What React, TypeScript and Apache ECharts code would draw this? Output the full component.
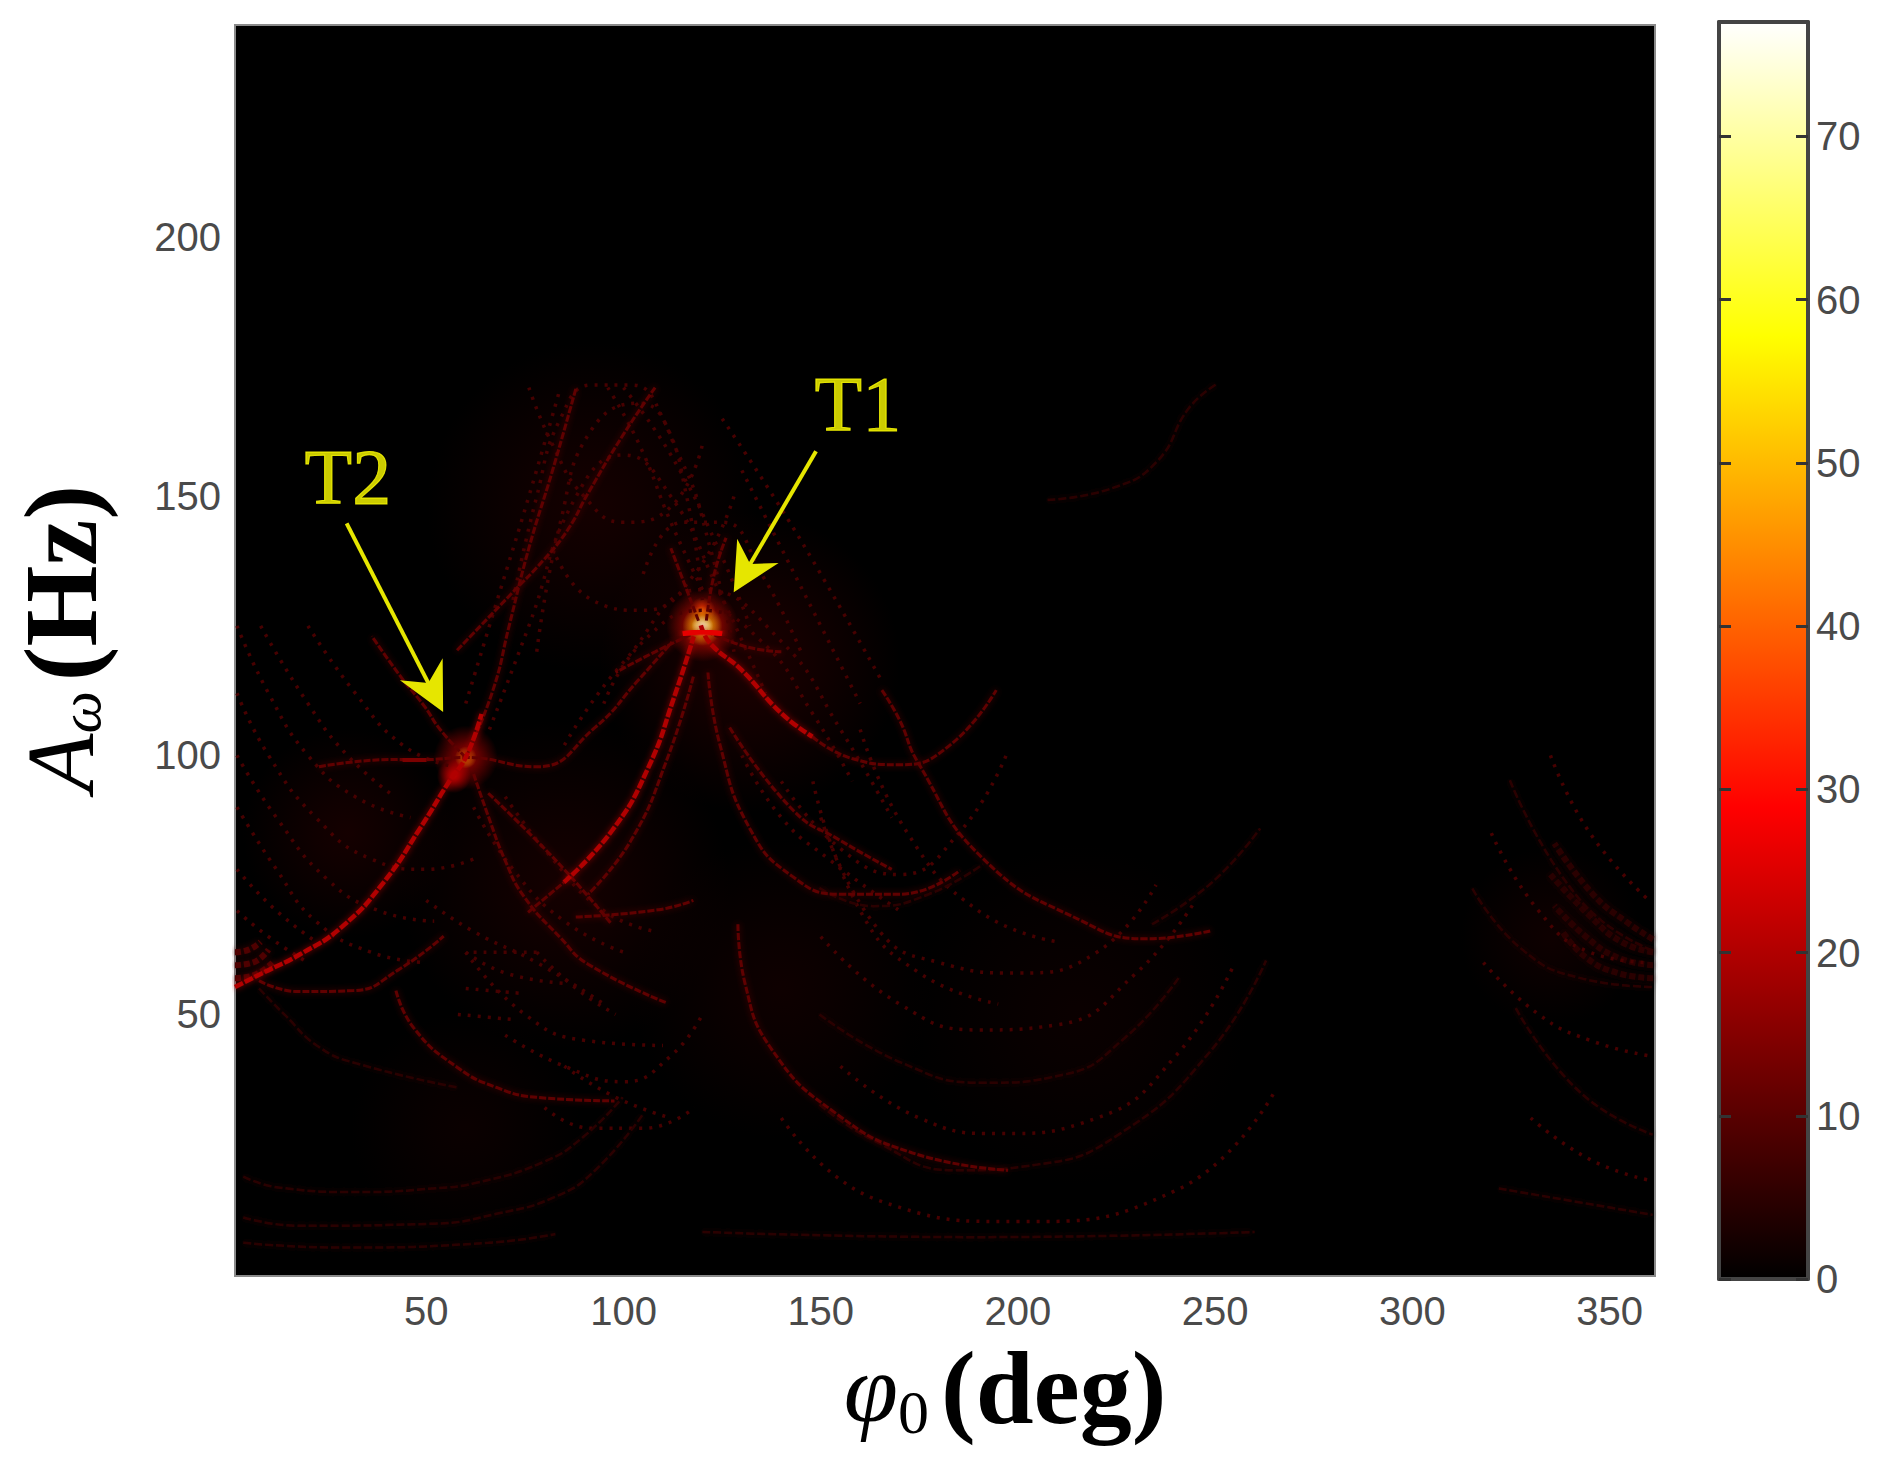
import { useEffect, useRef } from "react";
import * as echarts from "echarts";

const phiTicks = [50, 100, 150, 200, 250, 300, 350];
const ampTicks = [50, 100, 150, 200];
const barTicks = [0, 10, 20, 30, 40, 50, 60, 70];
const barMax = [77];

// arcs as [phi0 deg, A Hz]
const strongArcs = [
  [[1.5, 55.3], [8.8, 58.1], [18, 61.6], [28.6, 66.9], [39.2, 75.5], [48.4, 85.9], [56, 95.2], [60, 99.6], [64, 108]],
  [[119.6, 125.1], [122, 121.6], [129.9, 116.5], [139.9, 108.2], [147.9, 103.6]],
  [[84.9, 75.5], [97.1, 85.5], [106.2, 97.5], [112.9, 111.4], [117.8, 123]],
];
const midArcs = [
  [[60, 99.6], [66.9, 112.6], [71, 125], [76, 140], [82, 155], [88, 171]],
  [[57.8, 120.3], [71.8, 131.4], [79.7, 137.7], [85.8, 143.5], [91, 150.6], [100, 162], [108, 171]],
  [[147.9, 103.6], [157.9, 99.4], [170, 98.2], [182.3, 101.7], [194.5, 112.6]],
  [[75.8, 69.7], [84.9, 75.5]],
  [[121.4, 116], [124.4, 102.2], [132, 85.9], [142.7, 76.7], [154.9, 73.2], [170, 73.2], [185.3, 77.8]],
  [[126.9, 105.4], [143, 89.4], [154.9, 83.6], [168, 78]],
  [[117.7, 115.2], [111, 99.2], [101.9, 83.6], [91, 73.2]],
  [[129, 67.4], [130.8, 56], [137.8, 43], [154, 30.8], [173.1, 23.3], [197.5, 19.9]],
  [[165.5, 112.6], [170, 106.8], [174.6, 98.7], [191.1, 80.1], [216, 68.1], [232.5, 64.6], [249.2, 66.2]],
  [[62, 96.4], [65.7, 88.3], [70, 79.7], [74.8, 72.7], [84, 64.8], [91, 59.7], [110.7, 52.3]],
  [[65.7, 92.7], [77.9, 83.6], [87.9, 75.5], [97, 67.4]],
  [[42.3, 54.6], [46.8, 47.4], [57.8, 39.8], [67.8, 35.9], [77.9, 34], [97.7, 33.3]],
  [[87.9, 68.8], [108.9, 70.2], [117.7, 72]],
  [[7.6, 56.5], [17.6, 54.4], [31.6, 54.6], [42.9, 58.6], [54.4, 65.1]],
  [[22.8, 97.8], [41.7, 99.2], [49.6, 99.2], [60, 99.6], [77.9, 97.8], [92.8, 105.4], [103.7, 114.5], [112.3, 121.9]],
  [[60, 99.6], [53.5, 105], [49.6, 109.4], [43.8, 114.9], [36.2, 123]],
  [[119, 126], [116, 132], [112, 140]],
  [[121, 126], [123, 135], [126, 142]],
  [[119, 124], [108, 120], [98, 116]],
  [[121, 124], [131, 121], [140, 120]],
];
const faintArcs = [
  [[207.5, 149.3], [223.9, 151.6], [235.2, 156.7], [243.4, 167.1], [250.4, 171.7]],
  [[3.6, 18.7], [12.4, 16.6], [32.5, 15.7], [51.7, 16.4], [62.7, 17.5], [79.7, 21.5], [89.7, 26.3], [99.8, 34]],
  [[3.6, 10.8], [17.6, 9.2], [51.7, 9.6], [67.8, 11.5], [82.7, 14.8], [92.8, 19.9], [105, 30.8]],
  [[3.6, 5.9], [27.7, 5], [65.7, 5.9], [82.7, 7.6]],
  [[7.6, 2.5], [47.8, 2.5]],
  [[149.7, 50], [170.4, 40.7], [191.1, 36.8], [211.8, 38.4], [227, 45.4], [240.7, 57]],
  [[149.7, 32.6], [163.4, 25.7], [184.1, 19.9], [204.8, 21], [225.5, 26.8], [248.9, 43], [262.9, 60.4]],
  [[315.2, 74.3], [327.4, 62.8], [342.6, 57], [360.9, 55.3]],
  [[324.7, 95.2], [342.6, 72], [360.9, 62.3]],
  [[326.2, 51.2], [342.6, 34.9], [360.9, 26.8]],
  [[321.9, 16.4], [360.9, 11.3]],
  [[149.7, 74.4], [163.4, 70.9], [177.4, 73.2], [191.1, 79]],
  [[234, 67.4], [249.2, 75.5], [261.4, 85.9]],
  [[7.6, 55], [14, 50], [22.8, 43.7], [32.5, 40.5], [57.8, 35.9]],
  [[120, 8], [190, 7], [260, 8]],
  [[150, 3], [250, 3]],
  [[300, 3], [360, 3]],
];
const meshArcs = [
  [[72, 130], [78, 150], [84, 165], [92, 171.5], [102, 171.5], [110, 165], [116, 150], [120, 130]],
  [[78, 120], [84, 145], [92, 163], [104, 168], [114, 158], [122, 140], [128, 120]],
  [[66, 105], [76, 125], [88, 150], [100, 158], [112, 150], [124, 132], [136, 112]],
  [[60, 110], [68, 130], [76, 150], [84, 171]],
  [[96, 171], [104, 160], [112, 145], [120, 132]],
  [[100, 171], [112, 158], [124, 140], [132, 125]],
  [[76, 171], [82, 160], [90, 150], [100, 145], [112, 148], [120, 160]],
  [[82, 140], [92, 130], [105, 128], [118, 135], [128, 150]],
  [[130, 155], [140, 140], [150, 125], [160, 110]],
  [[125, 165], [138, 150], [150, 135], [165, 115]],
  [[2, 112], [10, 100], [22, 88], [36, 80], [50, 78], [62, 80]],
  [[2, 100], [12, 88], [25, 76], [38, 70], [52, 68]],
  [[2, 90], [12, 78], [22, 68], [36, 62], [50, 60]],
  [[2, 78], [12, 70], [24, 63]],
  [[2, 70], [10, 65], [20, 60]],
  [[20, 125], [32, 112], [44, 102], [56, 98]],
  [[8, 125], [20, 110], [30, 100], [42, 92]],
  [[2, 125], [10, 112], [20, 100], [32, 92], [46, 88]],
  [[60, 62], [75, 50], [90, 45], [110, 44]],
  [[62, 90], [72, 78], [85, 68], [100, 62]],
  [[70, 92], [82, 80], [95, 70], [108, 66]],
  [[50, 72], [62, 66], [78, 60], [95, 52]],
  [[60, 55], [75, 54]],
  [[58, 50], [72, 49]],
  [[62, 62], [78, 62]],
  [[95, 110], [105, 122], [120, 128], [135, 122], [148, 108], [158, 95]],
  [[85, 102], [100, 118], [120, 132], [140, 122], [155, 105], [168, 88]],
  [[105, 135], [115, 145], [125, 145], [135, 135], [145, 120]],
  [[140, 95], [155, 82], [170, 77], [185, 85], [197, 100]],
  [[130, 100], [140, 88], [152, 80], [170, 70]],
  [[148, 95], [160, 70], [175, 58], [195, 52]],
  [[160, 105], [172, 85], [190, 70], [210, 64]],
  [[70, 46], [85, 40], [100, 37], [112, 42], [120, 50]],
  [[78, 62], [88, 55], [98, 50]],
  [[60, 62], [70, 58], [85, 56]],
  [[80, 32], [92, 28], [105, 28], [118, 32]],
  [[85, 40], [98, 34], [112, 30]],
  [[150, 88], [165, 66], [180, 60], [200, 58], [220, 62], [235, 75]],
  [[150, 65], [170, 52], [190, 47], [210, 48], [230, 58], [245, 72]],
  [[155, 40], [175, 30], [195, 27], [220, 30], [240, 42], [255, 60]],
  [[140, 30], [165, 14], [200, 10], [240, 16], [265, 35]],
  [[320, 85], [332, 70], [345, 62], [360, 60]],
  [[335, 100], [345, 85], [360, 72]],
  [[318, 60], [332, 50], [345, 45], [360, 42]],
  [[330, 30], [345, 22], [360, 18]],
];
// curves bunching up into a smear at the plot edges
const leftBands = [
  [[1.5, 57], [6, 57.5], [11, 60]],
  [[1.5, 59.5], [6, 60], [10, 62.5]],
  [[1.5, 62], [5, 62.5], [8, 64]],
];
const rightBands = [
  [[361, 57], [352, 58], [344, 61], [338, 66]],
  [[361, 59.5], [352, 61], [344, 65], [336, 71]],
  [[361, 62], [353, 64], [345, 69], [335, 77]],
  [[361, 64.5], [354, 68], [346, 73], [336, 83]],
];
const t1Wing = [[[115, 123.5], [120, 123.8], [125, 123.5]]];
const t2Wing = [[[44, 99], [50, 99.2]]];

// [phi0, A, level, glow diameter]
const hazes = [
  [92, 148, 3, 330],
  [132, 118, 4, 300],
  [30, 85, 3, 210],
  [85, 75, 3, 330],
  [140, 55, 2, 300],
  [215, 50, 1.5, 340],
  [335, 65, 2, 180],
  [60, 28, 1.5, 230],
];
const peaks = [
  [120, 125, 30, 72],
  [120, 128, 36, 26],
  [120, 125, 58, 40],
  [120, 125, 77, 22],
  [60, 99.6, 22, 64],
  [57, 96, 26, 34],
  [60, 99.6, 48, 22],
];

const labels = [
  { name: "T1", value: [159.4, 168] },
  { name: "T2", value: [30.1, 153.9] },
];
const arrows = [
  [[148.8, 158.7], [131, 135.5]],
  [[29.8, 144.8], [51.5, 112.5]],
];

// same ramp as the colour bar
const hot = (v: number, a = 1) => {
  const t = v / barMax[0];
  const r = Math.min(1, t / 0.375);
  const g = Math.max(0, Math.min(1, (t - 0.375) / 0.375));
  const b = Math.max(0, (t - 0.75) / 0.25);
  return `rgba(${Math.round(r * 255)},${Math.round(g * 255)},${Math.round(b * 255)},${a})`;
};

const arcSeries = (arcs: number[][][], level: number, width: number, dash?: number[]) =>
  arcs.map((points) => ({
    type: "line",
    data: points,
    smooth: true,
    showSymbol: false,
    silent: true,
    lineStyle: {
      color: hot(level),
      width,
      type: dash || "solid",
      shadowBlur: dash && dash[0] < 4 ? 0 : 6,
      shadowColor: hot(level, 0.8),
    },
  }));

const glowSeries = (spots: number[][], name: string) => ({
  type: "scatter",
  name,
  silent: true,
  data: spots.map((p) => ({
    value: [p[0], p[1]],
    symbolSize: p[3],
    itemStyle: {
      color: new echarts.graphic.RadialGradient(0.5, 0.5, 0.5, [
        { offset: 0, color: hot(p[2], 1) },
        { offset: 0.3, color: hot(p[2], 0.75) },
        { offset: 1, color: hot(p[2], 0) },
      ]),
    },
  })),
});

const App: React.FC = () => {
  const chartRef = useRef<HTMLDivElement>(null);

  useEffect(() => {
    if (!chartRef.current) return;
    const myChart = echarts.init(chartRef.current, null, { renderer: "svg" });

    const tickFont = {
      color: "#4a4a4a",
      fontFamily: "Liberation Sans",
      fontSize: 40,
    };

    const option = {
      animation: false,
      backgroundColor: "#ffffff",
      grid: [
        {
          left: 235,
          top: 25,
          width: 1420,
          height: 1251,
          outerBoundsMode: "none",
          show: true,
          backgroundColor: "#000000",
          borderColor: "#8a8a8a",
          borderWidth: 2,
        },
        { left: 1719, top: 22, width: 89, height: 1257, outerBoundsMode: "none" },
      ],
      xAxis: [
        {
          type: "value",
          gridIndex: 0,
          min: 1.5,
          max: 361.5,
          splitLine: { show: false },
          axisLine: { show: false },
          axisTick: { show: false },
          axisLabel: { ...tickFont, margin: 15, customValues: phiTicks },
          name: "{phi|φ}{sub|0} {deg|(deg)}",
          nameLocation: "middle",
          nameGap: 48,
          nameTextStyle: {
            fontSize: 44,
            padding: [0, 0, 0, 120],
            rich: {
              phi: { fontFamily: "Liberation Serif", fontStyle: "italic", fontSize: 98, color: "#000", lineHeight: 110 },
              sub: { fontFamily: "Liberation Serif", fontSize: 62, color: "#000", verticalAlign: "bottom", lineHeight: 62 },
              deg: { fontFamily: "Liberation Serif", fontWeight: "bold", fontSize: 104, color: "#000", lineHeight: 110 },
            },
          },
        },
        {
          type: "category",
          gridIndex: 1,
          data: ["bar"],
          z: 5,
          axisLine: { onZero: false, lineStyle: { color: "#444444", width: 4 } },
          axisTick: { show: false },
          axisLabel: { show: false },
        },
        {
          type: "category",
          gridIndex: 1,
          position: "top",
          data: ["bar"],
          z: 5,
          axisLine: { onZero: false, lineStyle: { color: "#444444", width: 4 } },
          axisTick: { show: false },
          axisLabel: { show: false },
        },
      ],
      yAxis: [
        {
          type: "value",
          gridIndex: 0,
          min: -0.5,
          max: 241,
          splitLine: { show: false },
          axisLine: { show: false },
          axisTick: { show: false },
          axisLabel: { ...tickFont, margin: 14, customValues: ampTicks },
          name: "{a|A}{sub|ω} {hz|(Hz)}",
          nameLocation: "middle",
          nameRotate: 90,
          nameGap: 125,
          nameTextStyle: {
            fontSize: 36,
            padding: [0, 0, 0, 24],
            rich: {
              a: { fontFamily: "Liberation Serif", fontStyle: "italic", fontSize: 96, color: "#000", lineHeight: 100 },
              sub: { fontFamily: "Liberation Serif", fontStyle: "italic", fontSize: 60, color: "#000", verticalAlign: "bottom", lineHeight: 60 },
              hz: { fontFamily: "Liberation Serif", fontWeight: "bold", fontSize: 104, color: "#000", lineHeight: 100 },
            },
          },
        },
        {
          type: "value",
          gridIndex: 1,
          position: "right",
          min: 0,
          max: barMax[0],
          z: 5,
          splitLine: { show: false },
          axisLine: { show: true, lineStyle: { color: "#444444", width: 4 } },
          axisTick: {
            show: true,
            inside: true,
            length: 12,
            lineStyle: { color: "#333333", width: 3 },
            customValues: barTicks,
          },
          axisLabel: { ...tickFont, margin: 8, customValues: barTicks },
        },
        {
          type: "value",
          gridIndex: 1,
          position: "left",
          min: 0,
          max: barMax[0],
          z: 5,
          splitLine: { show: false },
          axisLine: { show: true, lineStyle: { color: "#444444", width: 4 } },
          axisTick: {
            show: true,
            inside: true,
            length: 12,
            lineStyle: { color: "#333333", width: 3 },
            customValues: barTicks,
          },
          axisLabel: { show: false },
        },
      ],
      series: [
        glowSeries(hazes, "haze"),
        ...arcSeries(leftBands, 9, 6, [6, 3]),
        ...arcSeries(rightBands, 5, 6, [6, 3]),
        ...arcSeries(meshArcs, 8, 3.5, [3, 7]),
        ...arcSeries(faintArcs, 5, 2.5, [8, 3]),
        ...arcSeries(midArcs, 11, 3, [7, 2]),
        ...arcSeries(strongArcs, 20, 4.5, [9, 2]),
        ...arcSeries(t1Wing, 26, 5),
        ...arcSeries(t2Wing, 14, 7),
        glowSeries(peaks, "peaks"),
        {
          type: "scatter",
          name: "targets",
          silent: true,
          symbolSize: 0,
          data: labels,
          label: {
            show: true,
            position: "inside",
            formatter: "{b}",
            color: "#ffff00",
            textBorderColor: "#ffff00",
            textBorderWidth: 1,
            fontFamily: "Liberation Serif",
            fontSize: 78,
          },
          markLine: {
            silent: true,
            symbol: ["none", "path://M50,0 L95,100 L50,68 L5,100 Z"],
            symbolSize: 48,
            label: { show: false },
            lineStyle: { color: "#e6e600", width: 4, type: "solid" },
            data: arrows.map(([from, to]) => [{ coord: from }, { coord: to }]),
          },
        },
        {
          type: "bar",
          name: "colour bar",
          xAxisIndex: 1,
          yAxisIndex: 1,
          data: barMax,
          barWidth: "100%",
          silent: true,
          itemStyle: {
            color: new echarts.graphic.LinearGradient(0, 0, 0, 1, [
              { offset: 0, color: "#ffffff" },
              { offset: 0.25, color: "#ffff00" },
              { offset: 0.625, color: "#ff0000" },
              { offset: 1, color: "#000000" },
            ]),
          },
        },
      ],
    };

    myChart.setOption(option);

    return () => {
      myChart.dispose();
    };
  }, []);

  return (
    <div
      ref={chartRef}
      style={{ position: "absolute", left: 0, top: 0, width: "1882px", height: "1469px" }}
    />
  );
};

export default App;
